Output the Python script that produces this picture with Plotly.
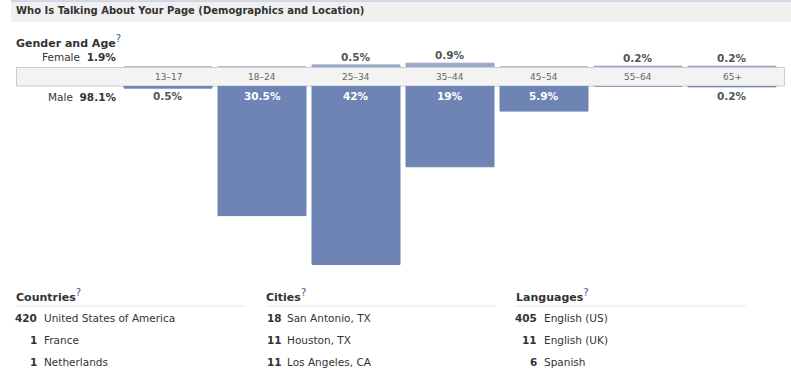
import plotly.graph_objects as go

# ---------------- data ----------------
age_groups = ["13–17", "18–24", "25–34", "35–44", "45–54", "55–64", "65+"]
female_pct = [0, 0, 0.5, 0.9, 0, 0.2, 0.2]
male_pct = [0.5, 30.5, 42, 19, 5.9, 0, 0.2]
female_total = "1.9%"
male_total = "98.1%"

countries = ["United States of America", "France", "Netherlands"]
country_counts = [420, 1, 1]
cities = ["San Antonio, TX", "Houston, TX", "Los Angeles, CA"]
city_counts = [18, 11, 11]
languages = ["English (US)", "English (UK)", "Spanish"]
language_counts = [405, 11, 6]

title_text = "Who Is Talking About Your Page (Demographics and Location)"

# ---------------- layout helpers ----------------
W, H = 791, 372
FONT = "DejaVu Sans"
TXT = "#333333"
MALE_C = "#6d84b4"
FEMALE_C = "#99a8cb"
Q = '<sup><span style="font-size:10px;color:#3b5998">?</span></sup>'
FS = 10.5
PAD = 2  # annotation inner padding compensation


def px(x):
    return x / W


def py(y):
    return 1 - y / H


fig = go.Figure()

fig.add_trace(go.Bar(
    x=age_groups, y=male_pct, xaxis="x", yaxis="y",
    marker=dict(color=MALE_C, line=dict(color=MALE_C, width=1)),
    hoverinfo="skip", showlegend=False,
))
fig.add_trace(go.Bar(
    x=age_groups, y=female_pct, xaxis="x", yaxis="y2",
    marker=dict(color=FEMALE_C, line=dict(color=FEMALE_C, width=1)),
    hoverinfo="skip", showlegend=False,
))

shapes = []
# header band
shapes.append(dict(type="rect", xref="paper", yref="paper",
                   x0=px(11), x1=px(791), y0=py(22), y1=py(1),
                   fillcolor="#f0f0f0", line=dict(width=0), layer="below"))
shapes.append(dict(type="line", xref="paper", yref="paper",
                   x0=px(11), x1=px(791), y0=py(1), y1=py(1),
                   line=dict(color="#c4cde0", width=1.5), layer="below"))
# age category band
shapes.append(dict(type="rect", xref="paper", yref="paper",
                   x0=px(16.5), x1=px(784.5), y0=py(86), y1=py(67.5),
                   fillcolor="#f3f3f3", line=dict(color="#cccccc", width=1),
                   layer="below"))
# separators under list headers
for x0 in (16, 266, 516):
    shapes.append(dict(type="line", xref="paper", yref="paper",
                       x0=px(x0), x1=px(x0 + 230), y0=py(306), y1=py(306),
                       line=dict(color="#e6e6e6", width=1)))

ann = []


def text(x, y, s, size=FS, color=TXT, anchor="left", bold=False):
    if bold:
        s = "<b>" + s + "</b>"
    xx = x - PAD if anchor == "left" else x + PAD
    ann.append(dict(xref="paper", yref="paper", x=px(xx), y=py(y), text=s,
                    showarrow=False, xanchor=anchor, yanchor="middle",
                    font=dict(family=FONT, size=size, color=color)))


text(16, 11, title_text, size=10, bold=True)
text(16, 41, "<b>Gender and Age</b>" + Q, size=11)
text(116, 57, "Female  <b>" + female_total + "</b>", anchor="right")
text(116, 97, "Male  <b>" + male_total + "</b>", anchor="right")

# category labels in band
for cat in age_groups:
    ann.append(dict(xref="x", yref="paper", x=cat, y=py(77), text=cat,
                    showarrow=False, xanchor="center", yanchor="middle",
                    font=dict(family=FONT, size=9, color="#666666")))

# male value labels
for cat, v in zip(age_groups, male_pct):
    if v <= 0:
        continue
    col = "white" if v >= 3 else "#555555"
    ann.append(dict(xref="x", yref="y", x=cat, y=0, text="<b>%g%%</b>" % v,
                    showarrow=False, xanchor="center", yanchor="top", yshift=-2,
                    font=dict(family=FONT, size=FS, color=col)))
# female value labels
for cat, v in zip(age_groups, female_pct):
    if v <= 0:
        continue
    ann.append(dict(xref="x", yref="y2", x=cat, y=v, text="<b>%g%%</b>" % v,
                    showarrow=False, xanchor="center", yanchor="bottom", yshift=0,
                    font=dict(family=FONT, size=FS, color="#555555")))

# bottom lists
lists = [
    ("Countries", countries, country_counts, 16, 37, 44),
    ("Cities", cities, city_counts, 266, 282, 287),
    ("Languages", languages, language_counts, 516, 537, 544),
]
row_y = [318, 340, 362]
for head, names, counts, hx, nx, tx in lists:
    text(hx, 295, "<b>" + head + "</b>" + Q, size=11)
    for yy, n, c in zip(row_y, names, counts):
        text(nx, yy, str(c), anchor="right", bold=True)
        text(tx, yy, n)

fig.update_layout(
    width=W, height=H,
    margin=dict(l=0, r=0, t=0, b=0),
    paper_bgcolor="white", plot_bgcolor="rgba(0,0,0,0)",
    bargap=6 / 94,
    xaxis=dict(domain=[px(121), px(779)], range=[-0.5, 6.5], visible=False,
               anchor="y", fixedrange=True),
    yaxis=dict(domain=[py(273), py(86)], range=[44, 0], visible=False,
               fixedrange=True),
    yaxis2=dict(domain=[py(67), py(50)], range=[0, 4], visible=False,
                anchor="x", fixedrange=True),
    shapes=shapes, annotations=ann,
    font=dict(family=FONT, color=TXT),
)

fig.write_html("out.html", config={"displayModeBar": False},
               post_script="document.body.style.margin='0';")
